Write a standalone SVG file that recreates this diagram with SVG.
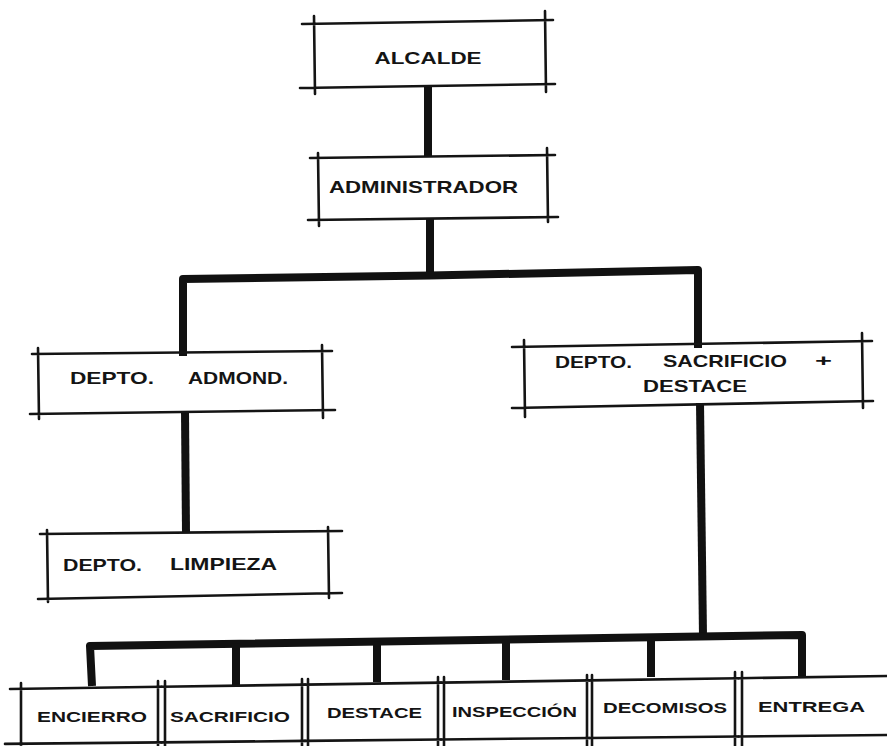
<svg xmlns="http://www.w3.org/2000/svg" width="887" height="746" viewBox="0 0 887 746">
<style>
.b{stroke:#141414;stroke-width:2.6;fill:none;stroke-linecap:round}
.c{stroke:#111;stroke-width:8;fill:none;stroke-linejoin:round;stroke-linecap:butt}
.t{font-family:"Liberation Sans",Arial,sans-serif;font-weight:bold;font-size:17px;fill:#141414}
.s{font-size:15.5px}
</style>
<rect width="887" height="746" fill="#fff"/>
<g id="connectors">
<path class="c" d="M428,86 L428,157"/>
<path class="c" d="M430,218 L430,276"/>
<path class="c" d="M183,356 L183,279 L430,275.5 L698,270 L698,348"/>
<path class="c" d="M185,411 L186,533"/>
<path class="c" d="M700,403 L703,636"/>
<path class="c" d="M92,686 L90,646 L802,635 L802,677"/>
<path class="c" d="M236,643.7 L236,687"/>
<path class="c" d="M377,641.6 L377,682"/>
<path class="c" d="M506,639.6 L506,680"/>
<path class="c" d="M651,637.3 L651,677"/>
</g>
<g id="alcalde">
<path class="b" d="M302,24 L553,20 M300,88 L555,84 M314,16 L315,94 M545,11 L546,92"/>
<text class="t" x="428" y="64" text-anchor="middle" textLength="107" lengthAdjust="spacingAndGlyphs">ALCALDE</text>
</g>
<g id="administrador">
<path class="b" d="M310,158 L555,155 M308,220 L558,217 M318,153 L319,226 M547,148 L548,222"/>
<text class="t" x="329" y="193" font-size="19" textLength="189" lengthAdjust="spacingAndGlyphs">ADMINISTRADOR</text>
</g>
<g id="depto-admond">
<path class="b" d="M32,354 L332,351 M30,414 L335,410 M38,348 L39,419 M322,345 L323,418"/>
<text class="t" x="70" y="384" textLength="84" lengthAdjust="spacingAndGlyphs">DEPTO.</text>
<text class="t" x="188" y="384" textLength="100" lengthAdjust="spacingAndGlyphs">ADMOND.</text>
</g>
<g id="depto-sacrificio">
<path class="b" d="M512,347 L872,341 M512,408 L873,401 M524,340 L525,417 M862,333 L863,408"/>
<text class="t" x="555" y="368" textLength="77" lengthAdjust="spacingAndGlyphs">DEPTO.</text>
<text class="t" x="663" y="367" textLength="124" lengthAdjust="spacingAndGlyphs">SACRIFICIO</text>
<text class="t" x="815" y="366" textLength="17" lengthAdjust="spacingAndGlyphs">+</text>
<text class="t" x="643" y="392" textLength="104" lengthAdjust="spacingAndGlyphs">DESTACE</text>
</g>
<g id="depto-limpieza">
<path class="b" d="M40,534 L342,531 M38,599 L342,593 M47,530 L48,602 M328,527 L329,598"/>
<text class="t" x="63" y="571" textLength="79" lengthAdjust="spacingAndGlyphs">DEPTO.</text>
<text class="t" x="170" y="570" textLength="107" lengthAdjust="spacingAndGlyphs">LIMPIEZA</text>
</g>
<g id="encierro">
<path class="b" d="M10,689 L161.5,686.8 M5,743.9 L161.5,742.4 M21,683 L21,746 M158,681 L158,746"/>
<text class="t s" x="92" y="722" text-anchor="middle" textLength="110" lengthAdjust="spacingAndGlyphs">ENCIERRO</text>
</g>
<g id="sacrificio">
<path class="b" d="M161.5,686.8 L305,684.6 M161.5,742.4 L305,740.9 M165,681 L165,746 M302,679 L302,746"/>
<text class="t s" x="230" y="722" text-anchor="middle" textLength="120" lengthAdjust="spacingAndGlyphs">SACRIFICIO</text>
</g>
<g id="destace">
<path class="b" d="M305,684.6 L441,682.6 M305,740.9 L441,739.5 M308,679 L308,746 M438,677 L438,746"/>
<text class="t s" x="374.5" y="718" text-anchor="middle" textLength="95" lengthAdjust="spacingAndGlyphs">DESTACE</text>
</g>
<g id="inspeccion">
<path class="b" d="M441,682.6 L589.5,680.4 M441,739.5 L589.5,738 M444,677 L444,746 M587,675 L587,746"/>
<text class="t s" x="514.5" y="717" text-anchor="middle" textLength="125" lengthAdjust="spacingAndGlyphs">INSPECCIÓN</text>
</g>
<g id="decomisos">
<path class="b" d="M589.5,680.4 L738.5,678.2 M589.5,738 L738.5,736.5 M592,675 L592,746 M735,672 L735,746"/>
<text class="t s" x="665" y="713" text-anchor="middle" textLength="124" lengthAdjust="spacingAndGlyphs">DECOMISOS</text>
</g>
<g id="entrega">
<path class="b" d="M738.5,678.2 L887,676 M738.5,736.5 L887,735 M742,672 L742,746"/>
<text class="t s" x="811.5" y="712" text-anchor="middle" textLength="107" lengthAdjust="spacingAndGlyphs">ENTREGA</text>
</g>
</svg>
